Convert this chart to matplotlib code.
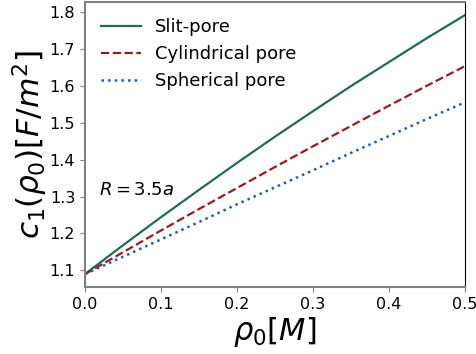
import matplotlib
matplotlib.use("Agg")
import matplotlib.pyplot as plt
import numpy as np

# concentration rho_0 [M]
rho0 = [0.0, 0.05, 0.1, 0.15, 0.2, 0.25, 0.3, 0.35, 0.4, 0.45, 0.5]

# c1 values [F/m^2]
c1_slit = [1.090, 1.168, 1.244, 1.318, 1.391, 1.462, 1.531, 1.599, 1.664, 1.729, 1.791]
c1_cyl = [1.090, 1.149, 1.208, 1.266, 1.323, 1.380, 1.436, 1.491, 1.546, 1.600, 1.653]
c1_sph = [1.090, 1.137, 1.184, 1.231, 1.279, 1.325, 1.371, 1.418, 1.464, 1.510, 1.555]

labels = ["Slit-pore", "Cylindrical pore", "Spherical pore"]

fig = plt.figure(figsize=(4.77, 3.54), dpi=100)
ax = fig.add_axes([0.178, 0.189, 0.797, 0.805])

ax.plot(rho0, c1_slit, "-", color="#1f6a5a", lw=1.6, label=labels[0])
ax.plot(rho0, c1_cyl, "--", color="#9c1a1a", lw=1.6, label=labels[1])
ax.plot(rho0, c1_sph, ":", color="#1f5fae", lw=1.8, label=labels[2])

ax.set_xlim(0, 0.5)
ax.set_xticks([0.0, 0.1, 0.2, 0.3, 0.4, 0.5])
ax.set_yticks([1.1, 1.2, 1.3, 1.4, 1.5, 1.6, 1.7, 1.8])
ax.tick_params(labelsize=11.5, color="#808080")

for side in ["left", "bottom", "top"]:
    ax.spines[side].set_color("#808080")
    ax.spines[side].set_linewidth(1.5)
ax.spines["right"].set_color("black")

ax.set_xlabel(r"$\rho_0[M]$", fontsize=22, labelpad=2)
ax.set_ylabel(r"$c_1(\rho_0)[F/m^2]$", fontsize=22.5, labelpad=0)

ax.text(0.018, 1.318, r"$R = 3.5a$", fontsize=13, va="center")

ax.legend(loc="upper left", frameon=False, fontsize=13, handlelength=2.2)

fig.savefig("out.png", dpi=100)
